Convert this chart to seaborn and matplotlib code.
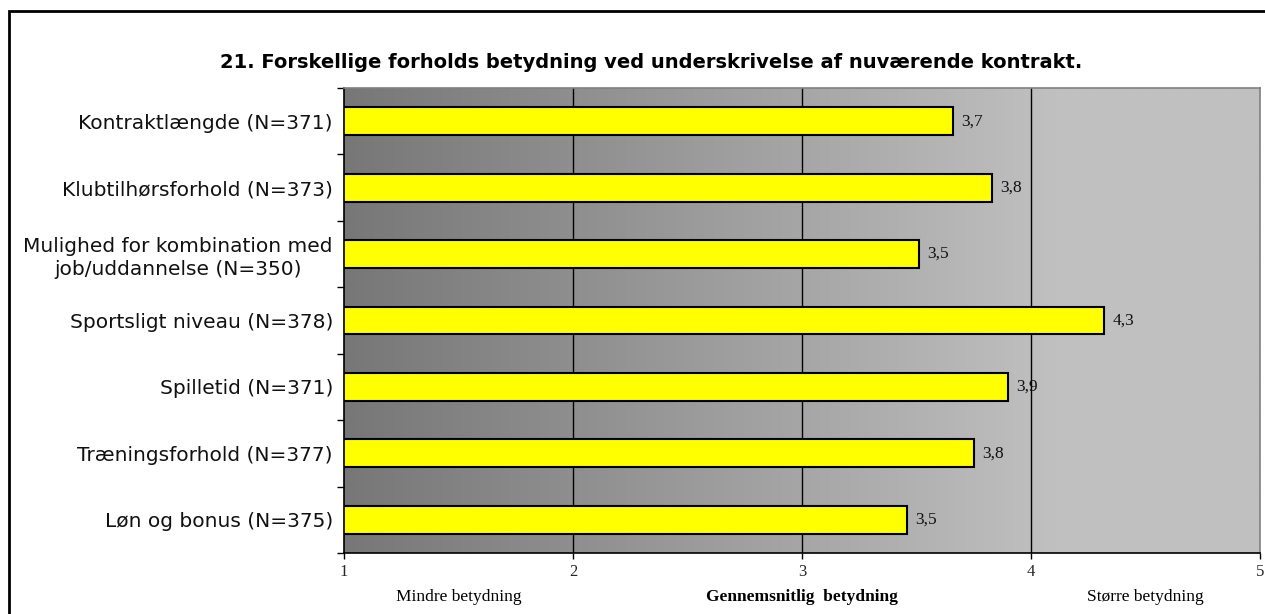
import numpy as np
import pandas as pd
import matplotlib
matplotlib.use("Agg")
import matplotlib.pyplot as plt
import matplotlib.transforms as mtransforms
from matplotlib.patches import Rectangle
import seaborn as sns

categories = [
    "Kontraktlængde (N=371)",
    "Klubtilhørsforhold (N=373)",
    "Mulighed for kombination med\njob/uddannelse (N=350)",
    "Sportsligt niveau (N=378)",
    "Spilletid (N=371)",
    "Træningsforhold (N=377)",
    "Løn og bonus (N=375)",
]
values = [3.66, 3.83, 3.51, 4.32, 3.90, 3.75, 3.46]
x_ticks = [1, 2, 3, 4, 5]
scale_labels = ["Mindre betydning", "Gennemsnitlig  betydning", "Større betydning"]
scale_positions = [1.5, 3.0, 4.5]
title = "21. Forskellige forholds betydning ved underskrivelse af nuværende kontrakt."

sns.set_theme(style="white")
plt.rcParams["font.family"] = ["DejaVu Sans"]

W, H = 1265, 614
fig = plt.figure(figsize=(W / 100, H / 100), dpi=100)
L, R, T, B = 344, 1260, 88, 553
ax = fig.add_axes([L / W, 1 - B / H, (R - L) / W, (B - T) / H])

# gradient background
xs = np.linspace(1, 5, 400)
g = 0x77 + (0xC0 - 0x77) * np.clip((xs - 1) / 3.1, 0, 1)
g = g / 255.0
img = np.stack([g, g, g], axis=-1)[None, :, :].repeat(2, axis=0)
ax.imshow(img, extent=[1, 5, len(categories) - 0.5, -0.5], aspect="auto",
          zorder=0, interpolation="bilinear")

for xv in [2, 3, 4]:
    ax.axvline(xv, color="black", lw=1, zorder=1)

df = pd.DataFrame({"cat": categories, "val": values})
sns.barplot(data=df, y="cat", x="val", orient="h", color="#FFFF00",
            saturation=1, width=0.42, edgecolor="black", linewidth=1.5,
            ax=ax, zorder=2)

for i, v in enumerate(values):
    ax.text(v + 0.035, i, f"{v:.1f}".replace(".", ","), va="center", ha="left",
            fontfamily="Liberation Serif", fontsize=12.5, color="#111111", zorder=3)

ax.set_xlim(1, 5)
ax.set_ylim(len(categories) - 0.5, -0.5)
ax.set_xlabel("")
ax.set_ylabel("")
ax.set_xticks(x_ticks)
ax.set_xticklabels([str(t) for t in x_ticks], fontfamily="Liberation Serif", fontsize=12)
ax.tick_params(axis="x", direction="out", length=4, width=1, color="black", pad=4, bottom=True)
ax.tick_params(axis="y", which="major", length=0, pad=8, labelsize=14.5)
ax.set_yticks(np.arange(-0.5, len(categories), 1.0), minor=True)
ax.tick_params(axis="y", which="minor", direction="out", length=5, width=1, color="black", left=True)
for lab in ax.get_yticklabels():
    lab.set_multialignment("center")
    lab.set_color("#111111")
    lab.set_linespacing(1.25)

for s in ["left", "bottom"]:
    ax.spines[s].set_color("black")
    ax.spines[s].set_linewidth(1.2)
for s in ["top", "right"]:
    ax.spines[s].set_color("#808080")
    ax.spines[s].set_linewidth(1.2)
ax.grid(False)

trans = mtransforms.blended_transform_factory(ax.transData, fig.transFigure)
for lbl, pos in zip(scale_labels, scale_positions):
    bold = "Gennem" in lbl
    ax.text(pos, 1 - 597 / H, lbl, transform=trans, ha="center", va="center",
            fontfamily="Liberation Serif", fontsize=12.5 if not bold else 12.5,
            fontweight="bold" if bold else "normal", color="black")

fig.text(651 / W, 1 - 62 / H, title, ha="center", va="center",
         fontsize=14, fontweight="bold", color="black")

fig.patches.append(Rectangle((9 / W, -0.1), 1.2, 1 - 11 / H + 0.1,
                             transform=fig.transFigure, fill=False,
                             edgecolor="black", linewidth=2, clip_on=False))

fig.savefig("out.png", dpi=100)
